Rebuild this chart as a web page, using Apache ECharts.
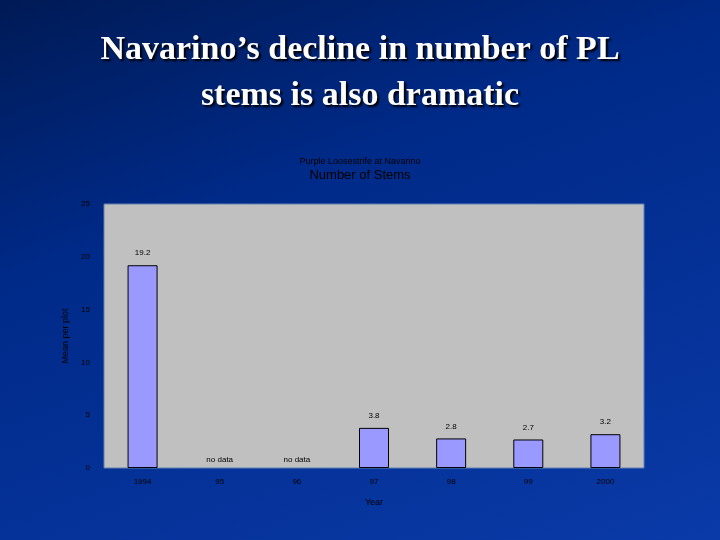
<!DOCTYPE html>
<html><head><meta charset="utf-8">
<script src="https://cdn.jsdelivr.net/npm/echarts@6/dist/echarts.min.js"></script>
<style>html,body{margin:0;padding:0;}#c{width:720px;height:540px;background:linear-gradient(160deg,#001a55 0%,#002a88 35%,#0a3aa8 100%);}</style>
</head><body><div id="c"></div>
<script>
const categories = ['1994','95','96','97','98','99','2000'];
const values = [19.2, null, null, 3.8, 2.8, 2.7, 3.2];
const noDataLabels = ['', 'no data', 'no data', '', '', '', ''];
const yTicks = [0,5,10,15,20,25];

const chart = echarts.init(document.getElementById('c'));
chart.setOption({
  backgroundColor: 'transparent',
  title: [
    {text: 'Navarino’s decline in number of PL\nstems is also dramatic', left: 'center', top: 22,
     textStyle: {color: '#fff', fontFamily: 'Liberation Serif', fontSize: 34, fontWeight: 'bold', lineHeight: 46,
       textShadowColor: '#000', textShadowBlur: 2, textShadowOffsetX: 2, textShadowOffsetY: 2}},
    {text: 'Purple Loosestrife at Navarino', left: 'center', top: 152,
     textStyle: {color: '#000', fontFamily: 'Liberation Sans', fontSize: 9, fontWeight: 'normal'}},
    {text: 'Number of Stems', left: 'center', top: 164,
     textStyle: {color: '#000', fontFamily: 'Liberation Sans', fontSize: 13, fontWeight: 'normal', letterSpacing: 1}}
  ],
  grid: {left: 104, right: 76, top: 204, bottom: 72, show: true, backgroundColor: '#c0c0c0', borderColor: '#6080b0', borderWidth: 1},
  xAxis: {type: 'category', data: categories, name: 'Year', nameLocation: 'middle', nameGap: 30,
    nameTextStyle: {color: '#000', fontSize: 9},
    axisLine: {show: false}, axisTick: {show: false},
    axisLabel: {color: '#000', fontSize: 8, margin: 10}},
  yAxis: {type: 'value', min: 0, max: 25, interval: 5, name: 'Mean per plot', nameLocation: 'middle', nameGap: 20,
    nameTextStyle: {color: '#000', fontSize: 9},
    axisLine: {show: false}, axisTick: {show: false}, splitLine: {show: false},
    axisLabel: {color: '#000', fontSize: 8, margin: 14}},
  series: [
    {type: 'bar', data: values, barWidth: 30,
     itemStyle: {color: '#9999ff', borderColor: '#000', borderWidth: 1},
     label: {show: true, position: 'top', color: '#000', fontSize: 8, distance: 8,
       formatter: p => p.value == null ? '' : p.value.toFixed(1)}},
    {type: 'bar', data: noDataLabels.map(s => s ? 0 : null), barGap: '-100%', barWidth: 30,
     itemStyle: {color: 'transparent'},
     label: {show: true, position: 'top', color: '#000', fontSize: 8, distance: 4,
       formatter: p => noDataLabels[p.dataIndex]}}
  ]
});
</script></body></html>
